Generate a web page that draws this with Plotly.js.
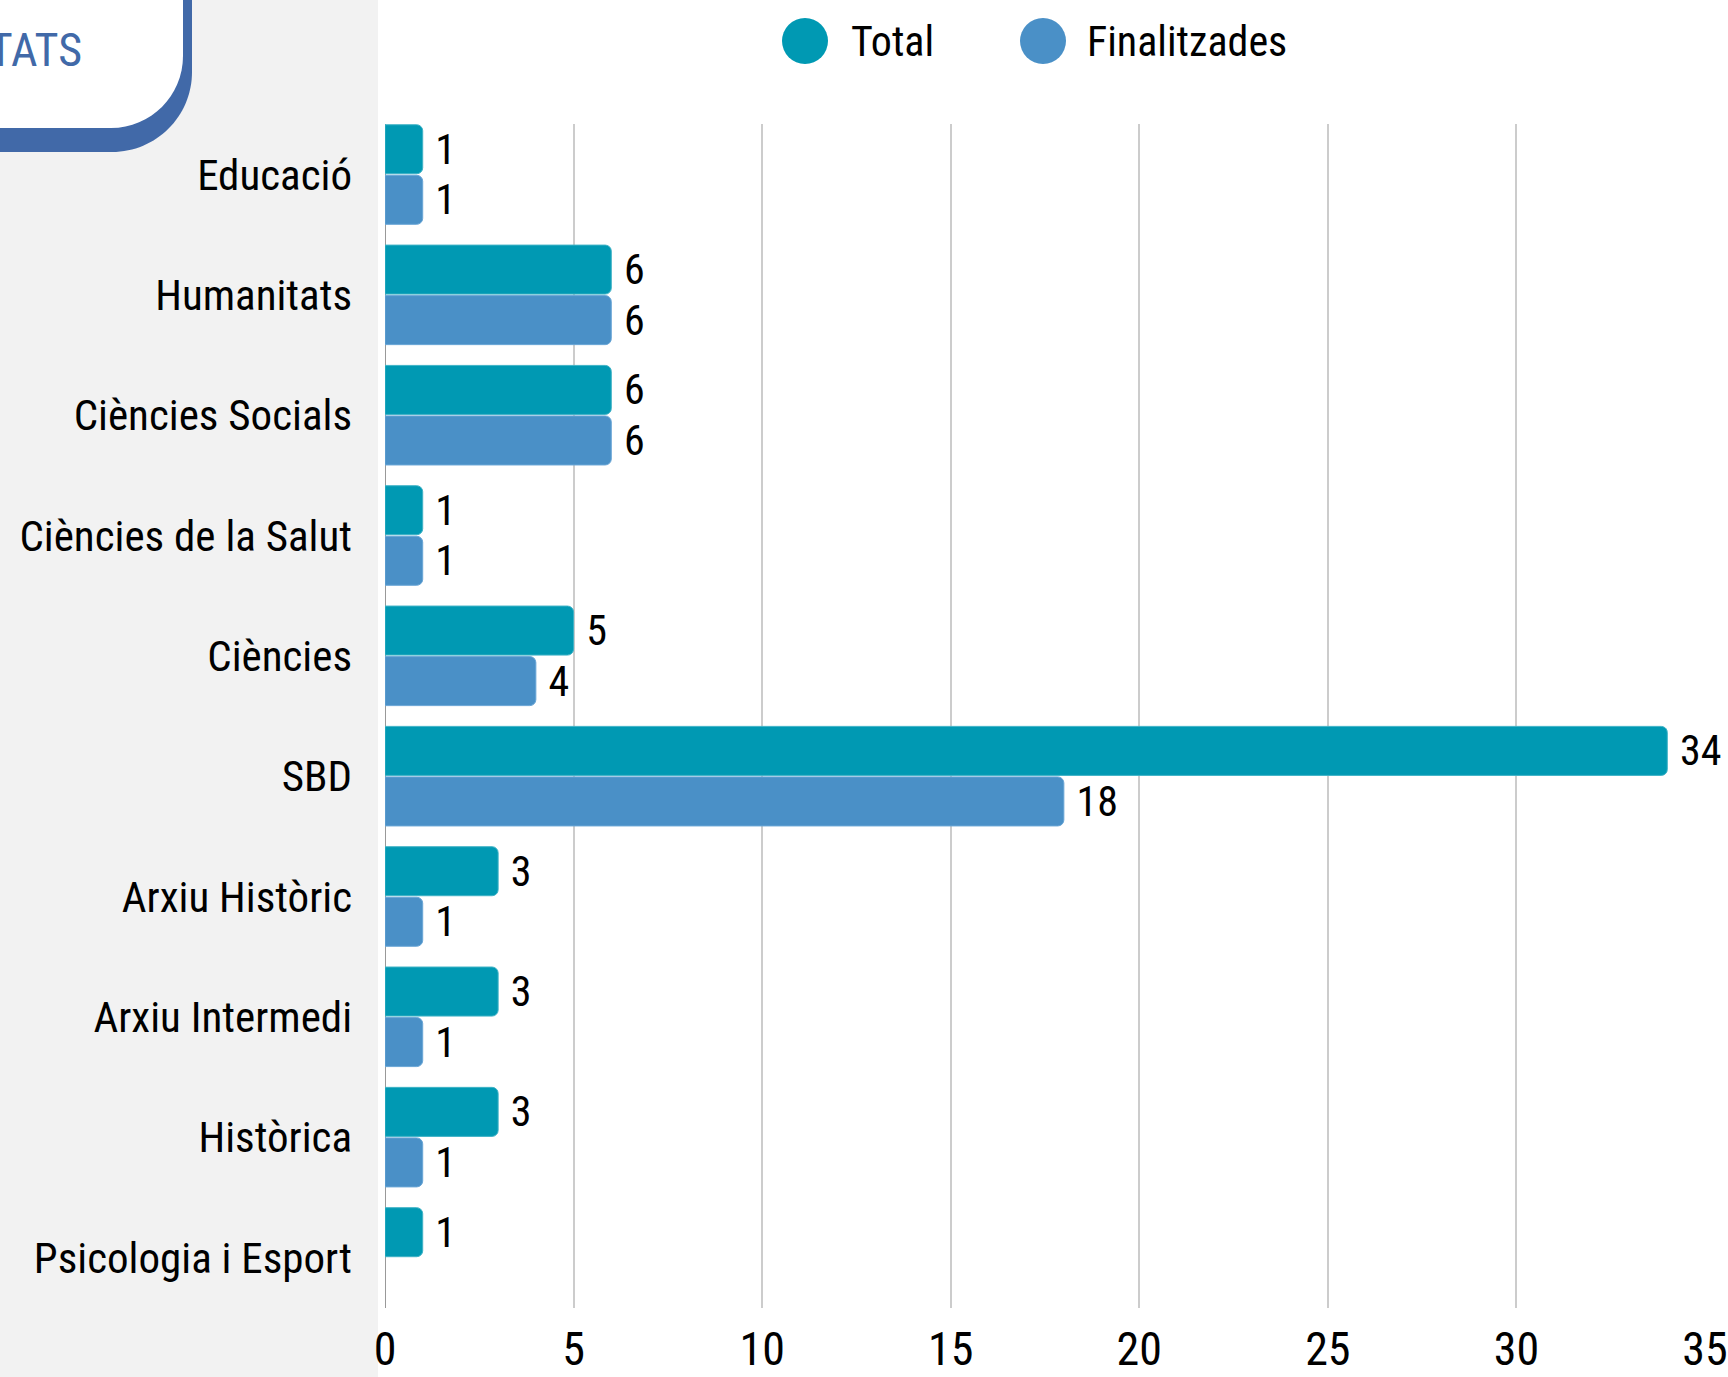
<!DOCTYPE html>
<html>
<head>
<meta charset="utf-8">
<script src="https://cdn.plot.ly/plotly-3.0.1.min.js"></script>
<style>html,body{margin:0;padding:0;background:#fff;}#chart{width:1728px;height:1377px;}</style>
</head>
<body>
<div id="chart"></div>
<script>
var categories = ["Educació","Humanitats","Ciències Socials","Ciències de la Salut","Ciències","SBD","Arxiu Històric","Arxiu Intermedi","Històrica","Psicologia i Esport"];
var totalValues = [1,6,6,1,5,34,3,3,3,1];
var finalitzadesValues = [1,6,6,1,4,18,1,1,1,null];
var seriesNames = ["Total","Finalitzades"];
var xTicks = [0,5,10,15,20,25,30,35];

var FONT = '"Roboto Condensed", "Liberation Sans Narrow", "DejaVu Sans Condensed", sans-serif';
var W = 1728, H = 1377, L = 385, R = 23, T = 124, B = 69;
var PW = W - L - R, PH = H - T - B;
function px(x){ return (x - L) / PW; }
function py(y){ return (H - B - y) / PH; }

var cTotal = '#0099b3', cFin = '#4a90c7';

var traces = [
  {type:'bar', orientation:'h', name:seriesNames[0], y:categories, x:totalValues,
   marker:{color:cTotal, line:{color:'#3fb2c6', width:1}, cornerradius:6},
   texttemplate:'\u00a0%{x}', textposition:'outside', cliponaxis:false, constraintext:'none',
   textfont:{family:FONT, size:42, color:'#000'}, hoverinfo:'x+y', showlegend:false},
  {type:'bar', orientation:'h', name:seriesNames[1], y:categories, x:finalitzadesValues,
   marker:{color:cFin, line:{color:'#6aa6d6', width:1}, cornerradius:6},
   texttemplate:'\u00a0%{x}', textposition:'outside', cliponaxis:false, constraintext:'none',
   textfont:{family:FONT, size:42, color:'#000'}, hoverinfo:'x+y', showlegend:false}
];

function roundedBox(x0,y0,x1,y1,r){
  var k = 0.5523*r;
  return 'M'+px(x0)+','+py(y0)+' L'+px(x1)+','+py(y0)+' L'+px(x1)+','+py(y1-r)+
    ' C'+px(x1)+','+py(y1-r+k)+' '+px(x1-r+k)+','+py(y1)+' '+px(x1-r)+','+py(y1)+
    ' L'+px(x0)+','+py(y1)+' Z';
}

var shapes = [
  {type:'rect', xref:'paper', yref:'paper', x0:px(-5), x1:px(378), y0:py(H+5), y1:py(-5), fillcolor:'#f2f2f2', line:{width:0}, layer:'below'},
  {type:'path', xref:'paper', yref:'paper', path:roundedBox(-40,-40,192,152,80), fillcolor:'#4169a8', line:{width:0}, layer:'above'},
  {type:'path', xref:'paper', yref:'paper', path:roundedBox(-40,-40,183,128,72), fillcolor:'#ffffff', line:{width:0}, layer:'above'},
  {type:'circle', xref:'paper', yref:'paper', x0:px(782), x1:px(828), y0:py(64), y1:py(18), fillcolor:cTotal, line:{width:0}},
  {type:'circle', xref:'paper', yref:'paper', x0:px(1020), x1:px(1066), y0:py(64), y1:py(18), fillcolor:cFin, line:{width:0}},
  {type:'line', xref:'x', yref:'paper', x0:0, x1:0, y0:0, y1:1, line:{color:'#999999', width:2}, layer:'below'}
];

var annotations = [
  {xref:'paper', yref:'paper', x:px(84), y:py(50), xanchor:'right', yanchor:'middle', text:'ACTIVITATS', showarrow:false,
   font:{family:FONT, size:46, color:'#4169a8'}},
  {xref:'paper', yref:'paper', x:px(849), y:py(41), xanchor:'left', yanchor:'middle', text:seriesNames[0], showarrow:false,
   font:{family:FONT, size:42, color:'#000'}},
  {xref:'paper', yref:'paper', x:px(1085), y:py(41), xanchor:'left', yanchor:'middle', text:seriesNames[1], showarrow:false,
   font:{family:FONT, size:42, color:'#000'}}
];

var layout = {
  width:W, height:H,
  margin:{l:L, r:R, t:T, b:B, pad:0},
  paper_bgcolor:'#ffffff', plot_bgcolor:'#ffffff',
  barmode:'group', bargap:0.16, bargroupgap:0.03,
  showlegend:false,
  font:{family:FONT, color:'#000'},
  xaxis:{range:[0,35], tickvals:xTicks, ticktext:xTicks.map(String), showgrid:true, gridcolor:'#cccccc', gridwidth:2,
         zeroline:false, showline:false, ticks:'', tickfont:{family:FONT, size:46, color:'#000'}, ticklabelstandoff:10,
         ticklabeloverflow:'allow', fixedrange:true},
  yaxis:{type:'category', categoryorder:'array', categoryarray:categories, range:[9.42,-0.42],
         showgrid:false, zeroline:false, showline:false, ticks:'', tickfont:{family:FONT, size:43, color:'#000'}, ticklabelstandoff:32, fixedrange:true},
  shapes:shapes,
  annotations:annotations
};

Plotly.newPlot('chart', traces, layout, {displayModeBar:false, staticPlot:true});
</script>
</body>
</html>
